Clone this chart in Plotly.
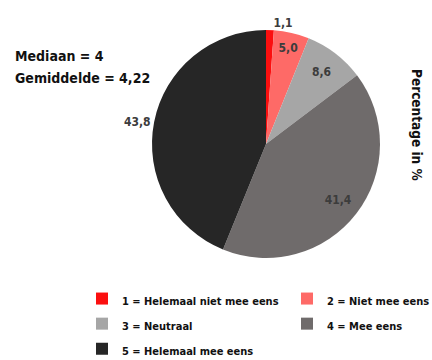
import plotly.graph_objects as go

# Survey answers on a 5-point scale, percentages per answer
categories = [
    "1 = Helemaal niet mee eens",
    "2 = Niet mee eens",
    "3 = Neutraal",
    "4 = Mee eens",
    "5 = Helemaal mee eens",
]
percentages = [1.1, 5.0, 8.6, 41.4, 43.8]
slice_colors = ["#fb0f0f", "#fe6a67", "#a6a6a6", "#6f6b6b", "#262626"]

# labels of the small first and large last slice sit outside the pie,
# the others inside (drawn by a transparent ring on top so they sit further out)
outer_positions = ["outside", "none", "none", "none", "outside"]
inner_positions = ["none", "inside", "inside", "inside", "none"]

FONT = "DejaVu Sans Condensed, DejaVu Sans, sans-serif"

# Dutch decimal comma for the slice labels
value_text = [f"{v:.1f}".replace(".", ",") for v in percentages]

# legend rows get their height from the legend font size; the label itself is drawn smaller
legend_names = [f"<span style='font-size:11px'>{c}</span>" for c in categories]

W, H = 432, 360
cx, cy, r = 266, 144, 114
pie_domain = dict(
    x=[(cx - r) / W, (cx + r) / W],
    y=[1 - (cy + r) / H, 1 - (cy - r) / H],
)
label_font = dict(family=FONT, size=12, color="#3c3c3c", weight="bold")

fig = go.Figure()

fig.add_trace(
    go.Pie(
        labels=legend_names,
        values=percentages,
        text=value_text,
        textinfo="text",
        textposition=outer_positions,
        sort=False,
        direction="clockwise",
        rotation=0,
        marker=dict(colors=slice_colors, line=dict(width=0)),
        textfont=label_font,
        domain=pie_domain,
        hoverinfo="label+percent",
    )
)

# transparent ring carrying the inside value labels
fig.add_trace(
    go.Pie(
        labels=legend_names,
        values=percentages,
        text=value_text,
        textinfo="text",
        textposition=inner_positions,
        insidetextorientation="horizontal",
        hole=0.6,
        sort=False,
        direction="clockwise",
        rotation=0,
        marker=dict(colors=["rgba(0,0,0,0)"] * len(percentages), line=dict(width=0)),
        textfont=label_font,
        domain=pie_domain,
        showlegend=False,
        hoverinfo="skip",
    )
)

fig.update_layout(
    width=W,
    height=H,
    margin=dict(l=0, r=0, t=0, b=0, autoexpand=False),
    paper_bgcolor="white",
    plot_bgcolor="white",
    font=dict(family=FONT, color="#111111"),
    showlegend=True,
    legend=dict(
        orientation="h",
        x=82 / W,
        xanchor="left",
        y=1 - 281 / H,
        yanchor="top",
        entrywidth=160,
        entrywidthmode="pixels",
        tracegroupgap=0,
        font=dict(family=FONT, size=17, color="#111111", weight="bold"),
        itemwidth=30,
    ),
    annotations=[
        dict(
            text="Mediaan = 4",
            x=13 / W, y=1 - 56 / H,
            xref="paper", yref="paper",
            xanchor="left", yanchor="middle",
            showarrow=False,
            font=dict(family=FONT, size=14, color="#111111", weight="bold"),
        ),
        dict(
            text="Gemiddelde = 4,22",
            x=13 / W, y=1 - 78 / H,
            xref="paper", yref="paper",
            xanchor="left", yanchor="middle",
            showarrow=False,
            font=dict(family=FONT, size=14, color="#111111", weight="bold"),
        ),
        dict(
            text="Percentage in %",
            x=417 / W, y=1 - 125 / H,
            xref="paper", yref="paper",
            xanchor="center", yanchor="middle",
            textangle=90,
            showarrow=False,
            font=dict(family=FONT, size=13.5, color="#111111", weight="bold"),
        ),
    ],
)

fig.write_html("out.html")
